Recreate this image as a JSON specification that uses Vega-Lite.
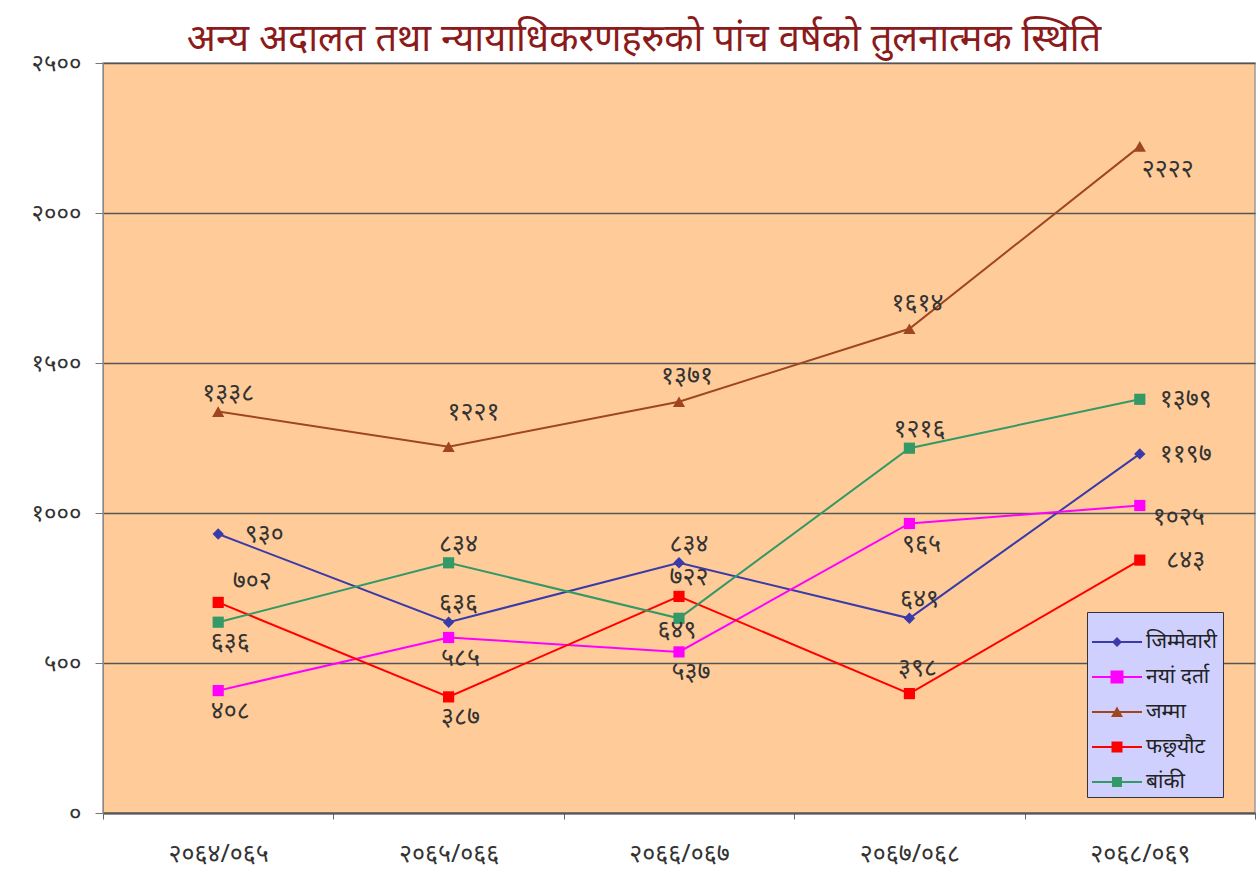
{
  "$schema": "https://vega.github.io/schema/vega-lite/v6.json",
  "width": 1152,
  "height": 750,
  "autosize": {"type": "none"},
  "padding": {"left": 103, "top": 63, "right": 2, "bottom": 66},
  "background": "white",
  "title": {"text": "अन्य अदालत तथा न्यायाधिकरणहरुको पांच वर्षको तुलनात्मक स्थिति", "fontSize": 38, "color": "#8B1A1A", "font": "Noto Sans", "fontWeight": "normal", "anchor": "middle", "frame": "group", "dx": -35, "offset": -8},
  "config": {"view": {"fill": "#FFCC99", "stroke": "#999999", "strokeWidth": 1.5}, "font": "Noto Sans"},
  "data": {"values": [
    {"series": "जिम्मेवारी", "year": "२०६४/०६५", "value": 930},
    {"series": "जिम्मेवारी", "year": "२०६५/०६६", "value": 636},
    {"series": "जिम्मेवारी", "year": "२०६६/०६७", "value": 834},
    {"series": "जिम्मेवारी", "year": "२०६७/०६८", "value": 649},
    {"series": "जिम्मेवारी", "year": "२०६८/०६९", "value": 1197},
    {"series": "नयां दर्ता", "year": "२०६४/०६५", "value": 408},
    {"series": "नयां दर्ता", "year": "२०६५/०६६", "value": 585},
    {"series": "नयां दर्ता", "year": "२०६६/०६७", "value": 537},
    {"series": "नयां दर्ता", "year": "२०६७/०६८", "value": 965},
    {"series": "नयां दर्ता", "year": "२०६८/०६९", "value": 1025},
    {"series": "जम्मा", "year": "२०६४/०६५", "value": 1338},
    {"series": "जम्मा", "year": "२०६५/०६६", "value": 1221},
    {"series": "जम्मा", "year": "२०६६/०६७", "value": 1371},
    {"series": "जम्मा", "year": "२०६७/०६८", "value": 1614},
    {"series": "जम्मा", "year": "२०६८/०६९", "value": 2222},
    {"series": "फछ्र्यौट", "year": "२०६४/०६५", "value": 702},
    {"series": "फछ्र्यौट", "year": "२०६५/०६६", "value": 387},
    {"series": "फछ्र्यौट", "year": "२०६६/०६७", "value": 722},
    {"series": "फछ्र्यौट", "year": "२०६७/०६८", "value": 398},
    {"series": "फछ्र्यौट", "year": "२०६८/०६९", "value": 843},
    {"series": "बांकी", "year": "२०६४/०६५", "value": 636},
    {"series": "बांकी", "year": "२०६५/०६६", "value": 834},
    {"series": "बांकी", "year": "२०६६/०६७", "value": 649},
    {"series": "बांकी", "year": "२०६७/०६८", "value": 1216},
    {"series": "बांकी", "year": "२०६८/०६९", "value": 1379}
  ]},
  "transform": [
    {"calculate": "replace(replace(replace(replace(replace(replace(replace(replace(replace(replace(toString(datum.value),regexp('0','g'),'०'),regexp('1','g'),'१'),regexp('2','g'),'२'),regexp('3','g'),'३'),regexp('4','g'),'४'),regexp('5','g'),'५'),regexp('6','g'),'६'),regexp('7','g'),'७'),regexp('8','g'),'८'),regexp('9','g'),'९')", "as": "label"},
    {"calculate": "datum.series + '|' + datum.year", "as": "key"}
  ],
  "encoding": {
    "x": {"field": "year", "type": "nominal",
      "scale": {"type": "band", "paddingInner": 0, "paddingOuter": 0, "domain": ["२०६४/०६५", "२०६५/०६६", "२०६६/०६७", "२०६७/०६८", "२०६८/०६९"]},
      "axis": {"title": null, "labelAngle": 0, "labelFontSize": 25, "labelColor": "#333333", "labelPadding": 22, "tickBand": "extent", "tickSize": 6, "tickColor": "#666666", "domainColor": "#555555", "domainWidth": 2, "grid": false}},
    "y": {"field": "value", "type": "quantitative",
      "scale": {"domain": [0, 2500], "nice": false},
      "axis": {"title": null, "values": [0, 500, 1000, 1500, 2000, 2500], "format": "d",
        "labelExpr": "replace(replace(replace(replace(replace(replace(datum.label,regexp('0','g'),'०'),regexp('1','g'),'१'),regexp('2','g'),'२'),regexp('5','g'),'५'),regexp('3','g'),'३'),regexp('4','g'),'४')",
        "labelFontSize": 24, "labelColor": "#333333", "labelPadding": 14, "tickSize": 8, "tickColor": "#777777", "domainColor": "#888888", "grid": true, "gridColor": "#555555", "gridWidth": 1.5}}
  },
  "layer": [
    {"mark": {"type": "line", "strokeWidth": 2},
     "encoding": {"stroke": {"field": "series", "type": "nominal", "scale": {"domain": ["बांकी", "फछ्र्यौट", "जम्मा", "नयां दर्ता", "जिम्मेवारी"], "range": ["#339966", "#FF0000", "#A0461E", "#FF00FF", "#3A3AA8"]}, "legend": null}}},
    {"transform": [{"filter": "datum.series == 'जिम्मेवारी'"}],
     "mark": {"type": "point", "filled": true, "opacity": 1, "shape": "diamond", "size": 130},
     "encoding": {"fill": {"field": "series", "type": "nominal", "scale": {"domain": ["नयां दर्ता", "जम्मा", "फछ्र्यौट", "बांकी", "जिम्मेवारी"], "range": ["#FF00FF", "#A0461E", "#FF0000", "#339966", "#3A3AA8"]}, "legend": null}}},
    {"transform": [{"filter": "datum.series == 'जम्मा'"}],
     "mark": {"type": "point", "filled": true, "opacity": 1, "shape": "triangle-up", "size": 150},
     "encoding": {"fill": {"field": "series", "type": "nominal", "legend": null}}},
    {"transform": [{"filter": "datum.series == 'नयां दर्ता' || datum.series == 'फछ्र्यौट' || datum.series == 'बांकी'"}],
     "mark": {"type": "point", "filled": true, "opacity": 1, "shape": "square", "size": 125},
     "encoding": {"fill": {"field": "series", "type": "nominal", "legend": null}}},
    {"mark": {"type": "point", "filled": true, "size": 0},
     "encoding": {
       "color": {"field": "series", "type": "nominal",
         "scale": {"domain": ["जिम्मेवारी", "नयां दर्ता", "जम्मा", "फछ्र्यौट", "बांकी"], "range": ["#3A3AA8", "#FF00FF", "#A0461E", "#FF0000", "#339966"]},
         "legend": {"title": null, "orient": "none", "legendX": 984, "legendY": 549, "fillColor": "#D0D0FF", "strokeColor": "#333333", "padding": 5, "labelFontSize": 21, "labelColor": "#222222", "symbolSize": 2500, "symbolStrokeWidth": 0, "symbolOpacity": 1, "rowPadding": -6, "labelOffset": 4}},
       "shape": {"field": "series", "type": "nominal",
         "scale": {"domain": ["जिम्मेवारी", "नयां दर्ता", "जम्मा", "फछ्र्यौट", "बांकी"],
           "range": ["M-1,-0.04H1V0.04H-1Z M0,-0.2L0.2,0L0,0.2L-0.2,0Z", "M-1,-0.04H1V0.04H-1Z M-0.26,-0.26H0.26V0.26H-0.26Z", "M-1,-0.04H1V0.04H-1Z M0,-0.22L0.24,0.2H-0.24Z", "M-1,-0.04H1V0.04H-1Z M-0.22,-0.22H0.22V0.22H-0.22Z", "M-1,-0.04H1V0.04H-1Z M-0.2,-0.2H0.2V0.2H-0.2Z"]},
         "legend": {"title": null, "orient": "none", "legendX": 984, "legendY": 549, "fillColor": "#D0D0FF", "strokeColor": "#333333", "padding": 5, "labelFontSize": 21, "labelColor": "#222222", "symbolSize": 2500, "symbolStrokeWidth": 0, "symbolOpacity": 1, "rowPadding": -6, "labelOffset": 4}}
     }},
    {"transform": [{"filter": {"field": "key", "oneOf": ["जिम्मेवारी|२०६४/०६५", "जिम्मेवारी|२०६८/०६९", "फछ्र्यौट|२०६८/०६९", "बांकी|२०६८/०६९"]}}],
     "mark": {"type": "text", "dx": 46, "dy": 0, "fontSize": 25, "color": "#333333"},
     "encoding": {"text": {"field": "label"}}},
    {"transform": [{"filter": {"field": "key", "oneOf": ["नयां दर्ता|२०६८/०६९"]}}],
     "mark": {"type": "text", "dx": 39, "dy": 11, "fontSize": 25, "color": "#333333"},
     "encoding": {"text": {"field": "label"}}},
    {"transform": [{"filter": {"field": "key", "oneOf": ["जिम्मेवारी|२०६५/०६६", "जिम्मेवारी|२०६६/०६७", "जिम्मेवारी|२०६७/०६८", "जम्मा|२०६४/०६५", "फछ्र्यौट|२०६६/०६७", "बांकी|२०६५/०६६", "बांकी|२०६७/०६८"]}}],
     "mark": {"type": "text", "dx": 10, "dy": -19, "fontSize": 25, "color": "#333333"},
     "encoding": {"text": {"field": "label"}}},
    {"transform": [{"filter": {"field": "key", "oneOf": ["जम्मा|२०६६/०६७", "जम्मा|२०६७/०६८", "फछ्र्यौट|२०६७/०६८"]}}],
     "mark": {"type": "text", "dx": 8, "dy": -26, "fontSize": 25, "color": "#333333"},
     "encoding": {"text": {"field": "label"}}},
    {"transform": [{"filter": {"field": "key", "oneOf": ["फछ्र्यौट|२०६४/०६५"]}}],
     "mark": {"type": "text", "dx": 34, "dy": -21, "fontSize": 25, "color": "#333333"},
     "encoding": {"text": {"field": "label"}}},
    {"transform": [{"filter": {"field": "key", "oneOf": ["जम्मा|२०६५/०६६"]}}],
     "mark": {"type": "text", "dx": 25, "dy": -35, "fontSize": 25, "color": "#333333"},
     "encoding": {"text": {"field": "label"}}},
    {"transform": [{"filter": {"field": "key", "oneOf": ["नयां दर्ता|२०६४/०६५", "नयां दर्ता|२०६५/०६६", "नयां दर्ता|२०६६/०६७", "नयां दर्ता|२०६७/०६८", "फछ्र्यौट|२०६५/०६६", "बांकी|२०६४/०६५"]}}],
     "mark": {"type": "text", "dx": 12, "dy": 20, "fontSize": 25, "color": "#333333"},
     "encoding": {"text": {"field": "label"}}},
    {"transform": [{"filter": {"field": "key", "oneOf": ["बांकी|२०६६/०६७"]}}],
     "mark": {"type": "text", "dx": -2, "dy": 12, "fontSize": 25, "color": "#333333"},
     "encoding": {"text": {"field": "label"}}},
    {"transform": [{"filter": {"field": "key", "oneOf": ["जम्मा|२०६८/०६९"]}}],
     "mark": {"type": "text", "dx": 28, "dy": 23, "fontSize": 25, "color": "#333333"},
     "encoding": {"text": {"field": "label"}}}
  ]
}
